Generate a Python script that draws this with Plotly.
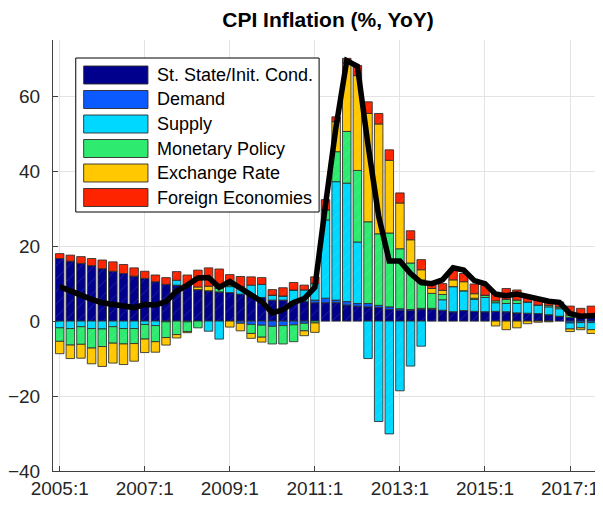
import plotly.graph_objects as go

# ---------------- data ----------------
quarters = [f"{y}:{q}" for y in range(2005, 2018) for q in range(1, 5)]
tick_labels = ["2005:1", "2007:1", "2009:1", "2011:1", "2013:1", "2015:1", "2017:1"]
y_ticks = [-40, -20, 0, 20, 40, 60]

series_names = ["St. State/Init. Cond.", "Demand", "Supply", "Monetary Policy",
                "Exchange Rate", "Foreign Economies"]

steady_state = [16.7, 16.0, 15.4, 14.8, 14.0, 13.3, 12.7, 12.0, 11.4, 10.5, 9.8, 9.6,
                9.8, 8.4, 8.1, 7.8, 7.6, 7.2, 7.0, 6.3, 5.6, 5.6, 5.2, 5.2,
                4.9, 4.9, 4.9, 4.3, 4.0, 3.8, 3.6, 3.1, 2.9, 2.9,
                3.2, 3.2, 2.9, 2.5, 2.8, 2.6, 2.5, 2.6, 2.5, 2.2, 2.1, 2.0, 1.7, 1.3,
                1.0, 0.9, 0.9, 0.8]
demand = [0, 0, 0, 0, 0, 0, 0, 0, 0, 0, 0, 0,
          0, 0, 0, 0, 0, -0.6, -0.9, -1.1, -1.4, -1.2, -1.0, -0.6,
          0.7, 1.2, 0.7, 0.9, 0.7, 0.9, 0.6, 0.7, 0.4, 0.2,
          0.2, 0.2, 0, 0, 0, 0, 0, 0, 0, 0, 0, 0, 0, 0,
          -0.5, -0.4, -0.4, -0.3]
supply = [-1.8, -2.0, -1.5, -2.0, -2.1, -1.5, -2.0, -2.0, -0.9, -1.2, -0.2, 1.3,
          -0.2, 0, -2.7, -4.8, 1.6, 1.5, 2.6, 3.5, 1.3, 1.1, 3.1, 3.1,
          4.4, 20.9, 31.6, 31.6, 16.4, -10.0, -26.8, -30.1, -18.6, -12.0,
          -6.7, 0, 2.8, 6.7, 5.3, 3.2, 3.8, 2.3, 2.2, 2.5, 3.0, 2.3, 2.1, 2.0,
          -1.6, -1.4, -1.9, -1.5]
monetary = [-3.6, -4.4, -4.7, -5.2, -4.7, -4.4, -4.1, -4.0, -3.9, -4.3, -4.2, -3.6,
            -2.6, -1.8, 0, 0.9, 0.4, 0.5, -2.4, -3.2, -4.7, -4.9, -4.5, -2.0,
            -0.5, 2.7, 8.0, 13.8, 19.1, 21.8, 19.1, 19.7, 16.0, 12.4,
            7.6, 4.0, 1.4, 0, 0, 0.3, 0.6, 0.5, 1.1, 0.9, 0, 0, 0.4, 0.5,
            0.6, 0.5, 0.8, 0.7]
exchange = [-3.3, -3.6, -3.7, -4.2, -5.3, -5.3, -5.5, -4.7, -3.6, -2.8, -2.0, -0.9,
            -0.3, 0.7, 1.2, 0, -1.6, -2.0, -1.3, -1.3, 0, 0, 0, -1.3,
            -2.5, 0, 8.0, 18.2, 25.3, 28.9, 29.3, 19.4, 12.2, 6.2,
            2.7, 1.3, 1.1, 1.8, 2.4, 1.2, 0, -1.3, -2.3, -1.8, -0.7, -0.3, -0.2, 0,
            -0.7, -0.5, -1.0, -0.6]
foreign = [1.3, 1.6, 1.8, 1.9, 2.3, 2.5, 2.4, 2.2, 1.9, 1.8, 1.8, 2.3,
           2.5, 4.5, 4.9, 5.2, 2.8, 2.7, 2.2, 1.8, 1.5, 2.2, 2.0, 1.3,
           1.8, 2.7, 1.3, 1.3, 2.7, 3.1, 2.8, 2.8, 2.7, 2.4,
           2.7, 1.5, 1.8, 2.7, 2.2, 2.6, 2.6, 2.3, 2.9, 2.7, 1.4, 1.5, 1.1, 1.3,
           2.4, 2.0, 2.3, 2.1]
cpi = [9.2, 8.0, 6.9, 5.8, 4.9, 4.4, 3.8, 3.6, 4.4, 4.3, 5.2, 8.0,
       9.6, 11.5, 11.6, 9.0, 10.6, 9.0, 7.0, 5.2, 2.2, 3.0, 5.0, 6.0,
       9.0, 31.0, 52.0, 69.5, 68.0, 47.0, 28.0, 16.0, 16.0, 12.7,
       10.3, 10.0, 11.0, 14.2, 13.6, 10.8, 10.0, 7.2, 6.8, 7.2, 6.5, 5.9, 5.3, 5.0,
       2.0, 1.3, 1.4, 1.6]

colors = ["#00008C", "#0A5AFF", "#00D8FF", "#2EEB70", "#FFC800", "#FF2400"]
components = [steady_state, demand, supply, monetary, exchange, foreign]

# ---------------- geometry (page body has an 8px default margin) ----------------
OFF = 8
W, H = 603 - OFF, 511 - OFF
L, T, B = 47 - OFF, 40 - OFF, 40
PW, PH = W - L, H - T - B


def px(x):  # page pixel x -> paper
    return (x - OFF - L) / PW


def py(y):  # page pixel y -> paper
    return (H - B - (y - OFF)) / PH


fig = go.Figure()
for name, vals, col in zip(series_names, components, colors):
    fig.add_trace(go.Bar(
        x=quarters, y=vals, name=name, width=0.8,
        marker=dict(color=col, line=dict(color="rgba(45,45,45,0.85)", width=1),
                    pattern=dict(shape="/", fgcolor="white", fgopacity=0.25,
                                 size=9, solidity=0.06)),
        showlegend=False,
    ))

fig.add_trace(go.Scatter(
    x=quarters, y=cpi, mode="lines", name="CPI",
    line=dict(color="black", width=5.5), showlegend=False,
))

# MATLAB-style legend box
shapes = [dict(type="rect", xref="paper", yref="paper",
               x0=px(70), x1=px(316), y0=py(212), y1=py(58),
               fillcolor="white", line=dict(color="black", width=1), layer="above")]
annotations = []
for k, (name, col) in enumerate(zip(series_names, colors)):
    cy = 75 + 24.5 * k
    shapes.append(dict(type="rect", xref="paper", yref="paper",
                       x0=px(78), x1=px(143), y0=py(cy + 9), y1=py(cy - 9),
                       fillcolor=col, line=dict(color="rgba(45,45,45,0.9)", width=1),
                       layer="above"))
    annotations.append(dict(xref="paper", yref="paper", x=px(150), y=py(cy),
                            text=name, showarrow=False, xanchor="left", yanchor="middle",
                            font=dict(family="Liberation Sans, Arial", size=18, color="black")))

fig.update_layout(
    width=W, height=H,
    margin=dict(l=L, r=0, t=T, b=B),
    plot_bgcolor="white", paper_bgcolor="white",
    barmode="relative",
    font=dict(family="Liberation Sans, Arial", size=19, color="#262626"),
    title=dict(text="<b>CPI Inflation (%, YoY)</b>", x=px(325), xref="paper",
               y=1 - (20 - OFF) / H, yanchor="middle", xanchor="center",
               font=dict(size=21, color="black")),
    shapes=shapes, annotations=annotations,
)
fig.update_xaxes(
    range=[-0.63, 51.1], tickmode="array", tickvals=tick_labels, ticktext=tick_labels,
    showgrid=True, gridcolor="#E3E3E3", gridwidth=1,
    ticks="inside", ticklen=5, tickcolor="#404040",
    showline=True, linecolor="#404040", linewidth=1, zeroline=False,
)
fig.update_yaxes(
    range=[-40, 75], tickvals=y_ticks,
    showgrid=True, gridcolor="#E3E3E3", gridwidth=1,
    ticks="inside", ticklen=5, tickcolor="#404040",
    showline=True, linecolor="#404040", linewidth=1, zeroline=False,
    ticklabelstandoff=8,
)

fig.write_html("out.html")
